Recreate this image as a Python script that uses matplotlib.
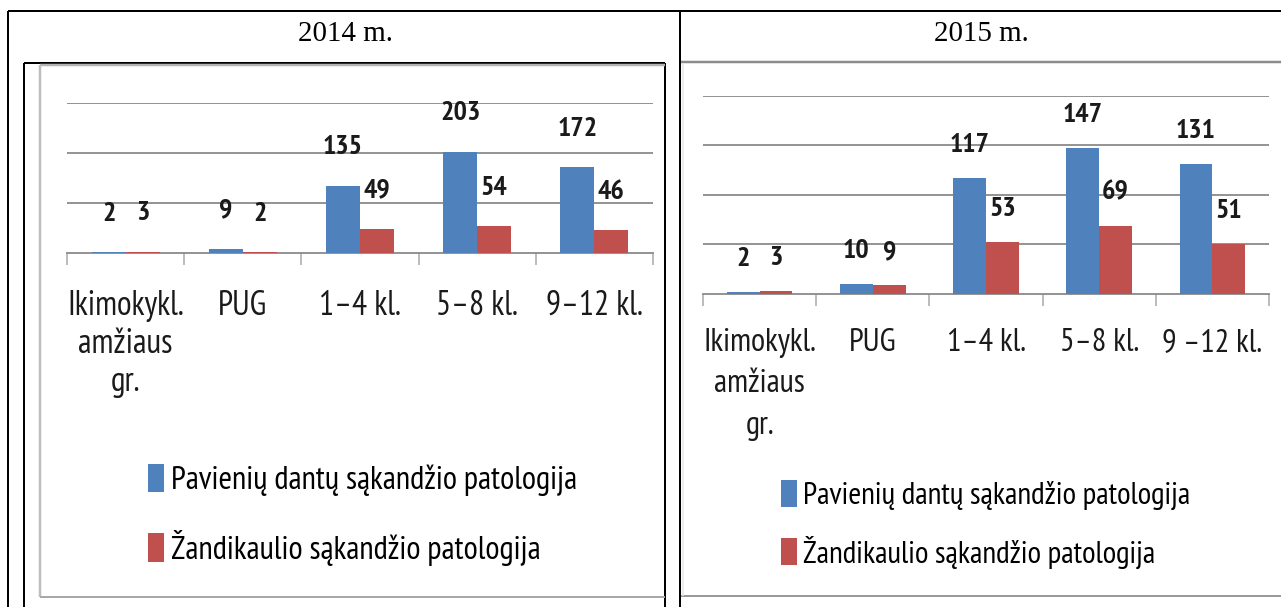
import matplotlib
matplotlib.use("Agg")
import matplotlib.pyplot as plt
from matplotlib import font_manager as fm
from matplotlib.lines import Line2D
from matplotlib.patches import Patch
import numpy as np

# ---------------- data ----------------
years = ["2014 m.", "2015 m."]
categories_2014 = ["Ikimokykl.\namžiaus\ngr.", "PUG", "1–4 kl.", "5–8 kl.", "9–12 kl."]
categories_2015 = ["Ikimokykl.\namžiaus\ngr.", "PUG", "1–4 kl.", "5–8 kl.", "9 –12 kl."]
single_teeth_2014 = [2, 9, 135, 203, 172]
jaw_2014 = [3, 2, 49, 54, 46]
single_teeth_2015 = [2, 10, 117, 147, 131]
jaw_2015 = [3, 9, 53, 69, 51]
series_names = ["Pavienių dantų sąkandžio patologija", "Žandikaulio sąkandžio patologija"]

BLUE = "#4F81BD"
RED = "#C0504D"
GRID = "#8a8a8a"

# ---------------- fonts ----------------
available = {f.name for f in fm.fontManager.ttflist}
def pick(cands):
    for c in cands:
        if c in available:
            return c
    return "DejaVu Sans"
SANS = pick(["PT Sans Narrow", "Fira Sans Condensed", "Open Sans Condensed",
             "Roboto Condensed", "Liberation Sans Narrow", "Carlito", "Open Sans"])
SERIF = pick(["Liberation Serif", "Tinos", "DejaVu Serif"])

W, H = 1281, 607
fig = plt.figure(figsize=(W / 100, H / 100), dpi=100)
renderer = fig.canvas.get_renderer()

def size_for(s, target_w, **kw):
    t = fig.text(0, 0, s, fontsize=20, **kw)
    w = t.get_window_extent(renderer=renderer).width
    t.remove()
    return 20 * target_w / w

def pitch_for(fs, target_px):
    t1 = fig.text(0, 0, "Ab", fontsize=fs, family=SANS, linespacing=1.0)
    t2 = fig.text(0, 0, "Ab\nAb", fontsize=fs, family=SANS, linespacing=1.0)
    h1 = t1.get_window_extent(renderer=renderer).height
    h2 = t2.get_window_extent(renderer=renderer).height
    t1.remove(); t2.remove()
    return target_px / max(h2 - h1, 1e-6)

fs_head = size_for("2014 m.", 95, family=SERIF)
fs_val = size_for("135", 40, family=SANS, weight="bold")
fs_tick14 = size_for("Ikimokykl.", 117, family=SANS)
fs_tick15 = size_for("Ikimokykl.", 113, family=SANS)
fs_leg14 = size_for(series_names[0], 405, family=SANS)
fs_leg15 = size_for(series_names[0], 387, family=SANS)
ls14 = pitch_for(fs_tick14, 40)
ls15 = pitch_for(fs_tick15, 45)

# ---------------- frame / table lines (pixel overlay) ----------------
ov = fig.add_axes([0, 0, 1, 1], zorder=-5)
ov.set_xlim(0, W)
ov.set_ylim(H, 0)
ov.axis("off")
def seg(x0, y0, x1, y1, c="black", lw=2.0):
    ov.add_line(Line2D([x0, x1], [y0, y1], color=c, lw=lw * 0.72, solid_capstyle="butt"))
# table
seg(8, 11, W, 11)
seg(8, 11, 8, H)
seg(680, 11, 680, H)
# left chart picture frame
seg(24, 63, 665, 63)
seg(24, 63, 24, H)
seg(665, 63, 665, H)
seg(40, 65, 665, 65, c="#b4b4b4", lw=2.5)
seg(40, 65, 40, 597, c="#bdbdbd", lw=2.5)
seg(40, 597, 665, 597, c="#a8a8a8", lw=2.0)
# right chart picture frame
seg(681, 62, W, 62, c="#8c8c8c", lw=2.5)
seg(681, 596, W, 596, c="#9a9a9a", lw=2.0)
seg(683, 63, 683, 596, c="#e6e6e6", lw=1.5)

# headers
fig.text(345 / W, 1 - 34 / H, years[0], family=SERIF, fontsize=fs_head, ha="center", va="center")
fig.text(981 / W, 1 - 34 / H, years[1], family=SERIF, fontsize=fs_head, ha="center", va="center")

def px_axes(x0, y0, x1, y1):
    return fig.add_axes([x0 / W, 1 - y1 / H, (x1 - x0) / W, (y1 - y0) / H])

def chart(box, cats, s1, s2, ymax, step, lab_off_px, fs_tick, ls, tick_pad_px, fs_leg, leg_xy, leg_gap):
    ax = px_axes(*box)
    x = np.arange(len(cats))
    bw = 0.29
    b1 = ax.bar(x - bw / 2, s1, bw, color=BLUE, zorder=3)
    b2 = ax.bar(x + bw / 2, s2, bw, color=RED, zorder=3)
    for bars, vals in ((b1, s1), (b2, s2)):
        for r, v in zip(bars, vals):
            ax.annotate(str(v), (r.get_x() + r.get_width() / 2, v),
                        xytext=(0, lab_off_px * 0.72), textcoords="offset points",
                        ha="center", va="center", family=SANS, weight="bold",
                        fontsize=fs_val, color="#1a1a1a", zorder=5,
                        annotation_clip=False)
    ax.set_xlim(-0.5, len(cats) - 0.5)
    ax.set_ylim(0, ymax)
    ax.set_yticks(np.arange(step, ymax + 1, step))
    ax.yaxis.grid(True, color=GRID, lw=1.3, zorder=0)
    ax.tick_params(axis="y", length=0, labelleft=False)
    ax.set_xticks(x)
    ax.set_xticklabels(cats, family=SANS, fontsize=fs_tick, linespacing=ls)
    ax.tick_params(axis="x", which="major", length=0, pad=tick_pad_px * 0.72, colors="#1a1a1a")
    ax.set_xticks(np.arange(-0.5, len(cats), 1.0), minor=True)
    ax.tick_params(axis="x", which="minor", length=12 * 0.72, width=1.2, color="#b0b0b0", direction="out")
    for s in ("top", "right", "left"):
        ax.spines[s].set_visible(False)
    ax.spines["bottom"].set_color(GRID)
    ax.spines["bottom"].set_linewidth(1.3)
    ax.set_facecolor("none")
    handles = [Patch(facecolor=BLUE, edgecolor="none"), Patch(facecolor=RED, edgecolor="none")]
    fs_px = fs_leg / 0.72
    fig.legend(handles, series_names, loc="upper left",
               bbox_to_anchor=(leg_xy[0] / W, 1 - leg_xy[1] / H),
               frameon=False, prop={"family": SANS, "size": fs_leg},
               handlelength=0.5, handleheight=0.95, handletextpad=0.2,
               labelspacing=(leg_gap - fs_px) / fs_px, borderpad=0, borderaxespad=0)
    return ax

chart((67, 103, 653, 253), categories_2014, single_teeth_2014, jaw_2014, 300, 100, 38,
      fs_tick14, ls14, 37, fs_leg14, (148, 464), 66)
chart((703, 96, 1269, 294), categories_2015, single_teeth_2015, jaw_2015, 200, 50, 33,
      fs_tick15, ls15, 34, fs_leg15, (781, 480), 56)

fig.savefig("out.png", dpi=100)
